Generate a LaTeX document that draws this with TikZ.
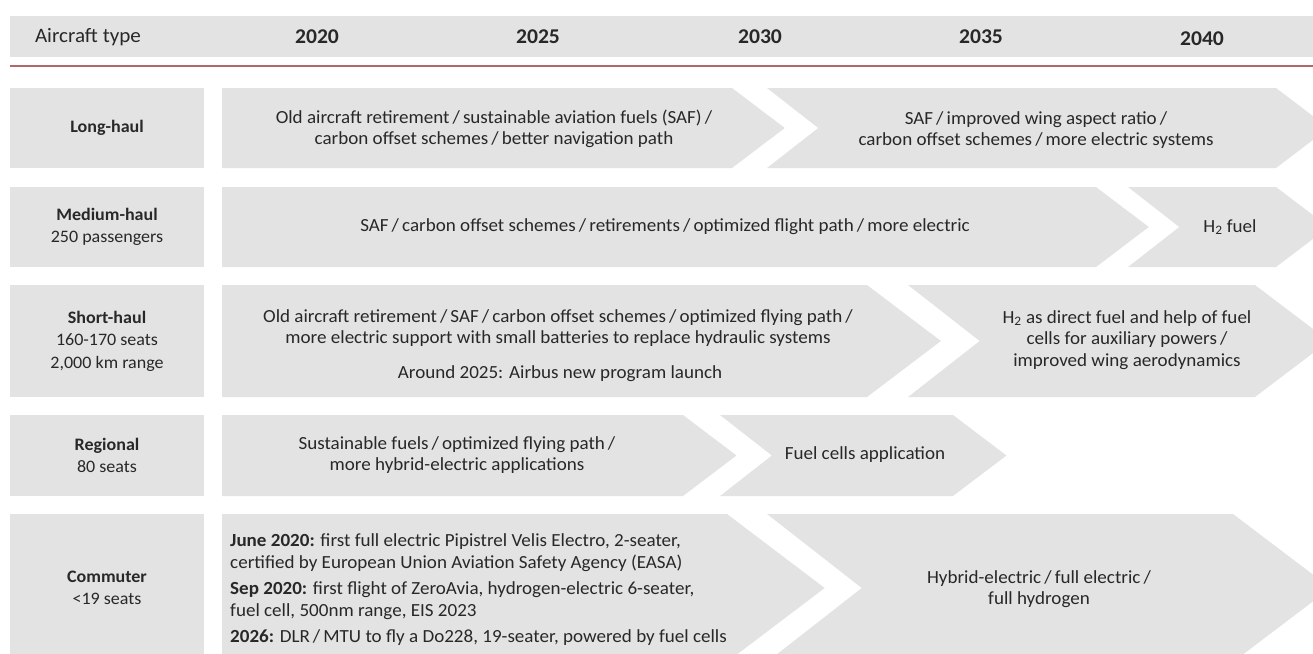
\documentclass[tikz,border=0pt]{standalone}
\usepackage{fontspec}
\setmainfont{Carlito}[FakeStretch=1.03]
\definecolor{boxgray}{RGB}{227,227,227}
\definecolor{txt}{RGB}{40,40,40}
\definecolor{rulered}{RGB}{178,104,104}
% flat-start arrow: x0, body end, top, bottom
\newcommand{\flatarrow}[4]{\fill[boxgray] (#1,#3) -- (#2,#3) -- ({#2+0.66*(#4-#3)},{(#3+#4)/2}) -- (#2,#4) -- (#1,#4) -- cycle;}
% notched arrow: x0, body end, top, bottom
\newcommand{\notcharrow}[4]{\fill[boxgray] (#1,#3) -- (#2,#3) -- ({#2+0.66*(#4-#3)},{(#3+#4)/2}) -- (#2,#4) -- (#1,#4) -- ({#1+0.64*(#4-#3)},{(#3+#4)/2}) -- cycle;}
\begin{document}
\begin{tikzpicture}[x=1pt,y=-1pt,
  every node/.style={text=txt, inner sep=0pt},
  hdrtext/.style={font=\fontsize{20.5}{24}\selectfont},
  yeartext/.style={font=\fontsize{21}{24}\selectfont\bfseries},
  bodytext/.style={font=\fontsize{18.5}{21.5}\selectfont, align=center},
  lefttext/.style={font=\fontsize{18.5}{22}\selectfont, align=left, anchor=west},
  labelbox/.style={fill=boxgray, minimum width=194, align=center, font=\fontsize{17.5}{22.5}\selectfont}]
\useasboundingbox (0,0) rectangle (1313,653);
\clip (0,0) rectangle (1313,653);
% header
\fill[boxgray] (10,16) rectangle (1313,57);
\node[hdrtext] (hat) at (88,37) {Aircraft type};
\node[yeartext] (y20) at (317,37) {2020};
\node[yeartext] (y25) at (538,37) {2025};
\node[yeartext] (y30) at (760,37) {2030};
\node[yeartext] (y35) at (981,37) {2035};
\node[yeartext] (y40) at (1202,39) {2040};
\coordinate (rl) at (10,66);
\coordinate (rr) at (1313,66);
\draw[rulered, line width=1.8pt] (rl) -- (rr);
% label boxes
\node[labelbox, minimum height=80] (lab1) at (107,128) {\textbf{Long-haul}};
\node[labelbox, minimum height=80] (lab2) at (107,227) {\textbf{Medium-haul}\\250 passengers};
\node[labelbox, minimum height=112] (lab3) at (107,341) {\textbf{Short-haul}\\160-170 seats\\2,000 km range};
\node[labelbox, minimum height=81] (lab4) at (107,455.5) {\textbf{Regional}\\80 seats};
\node[labelbox, minimum height=148] (lab5) at (107,588) {\textbf{Commuter}\\<19 seats};
% row 1
\flatarrow{222}{732}{88}{168}
\notcharrow{767}{1276}{88}{168}
\node[bodytext] (r1a) at (494,129) {Old aircraft retirement\,/\,sustainable aviation fuels (SAF)\,/\\carbon offset schemes\,/\,better navigation path};
\node[bodytext] (r1b) at (1036,130) {SAF\,/\,improved wing aspect ratio\,/\\carbon offset schemes\,/\,more electric systems};
% row 2
\flatarrow{222}{1096}{187}{267}
\notcharrow{1128}{1276}{187}{267}
\node[bodytext] (r2a) at (665,227) {SAF\,/\,carbon offset schemes\,/\,retirements\,/\,optimized flight path\,/\,more electric};
\node[bodytext] (r2b) at (1230,227) {H\textsubscript{2} fuel};
% row 3
\flatarrow{222}{867}{285}{397}
\notcharrow{908}{1255}{285}{397}
\node[bodytext] (r3a) at (558,328) {Old aircraft retirement\,/\,SAF\,/\,carbon offset schemes\,/\,optimized flying path\,/\\more electric support with small batteries to replace hydraulic systems};
\node[bodytext] (r3c) at (560,374) {Around 2025: Airbus new program launch};
\node[bodytext] (r3b) at (1127,340) {H\textsubscript{2} as direct fuel and help of fuel\\cells for auxiliary powers\,/\\improved wing aerodynamics};
% row 4
\flatarrow{222}{683}{415}{496}
\notcharrow{720}{953}{415}{496}
\node[bodytext] (r4a) at (457,455) {Sustainable fuels\,/\,optimized flying path\,/\\more hybrid-electric applications};
\node[bodytext] (r4b) at (865,455) {Fuel cells application};
% row 5
\flatarrow{222}{727}{514}{662}
\notcharrow{767}{1233}{514}{662}
\node[lefttext] (r5a) at (230,590) {\textbf{June 2020:} first full electric Pipistrel Velis Electro, 2-seater,\\certified by European Union Aviation Safety Agency (EASA)\\[4pt]\textbf{Sep 2020:} first flight of ZeroAvia, hydrogen-electric 6-seater,\\fuel cell, 500nm range, EIS 2023\\[4pt]\textbf{2026:} DLR\,/\,MTU to fly a Do228, 19-seater, powered by fuel cells};
\node[bodytext] (r5b) at (1039,589) {Hybrid-electric\,/\,full electric\,/\\full hydrogen};
\end{tikzpicture}
\end{document}
